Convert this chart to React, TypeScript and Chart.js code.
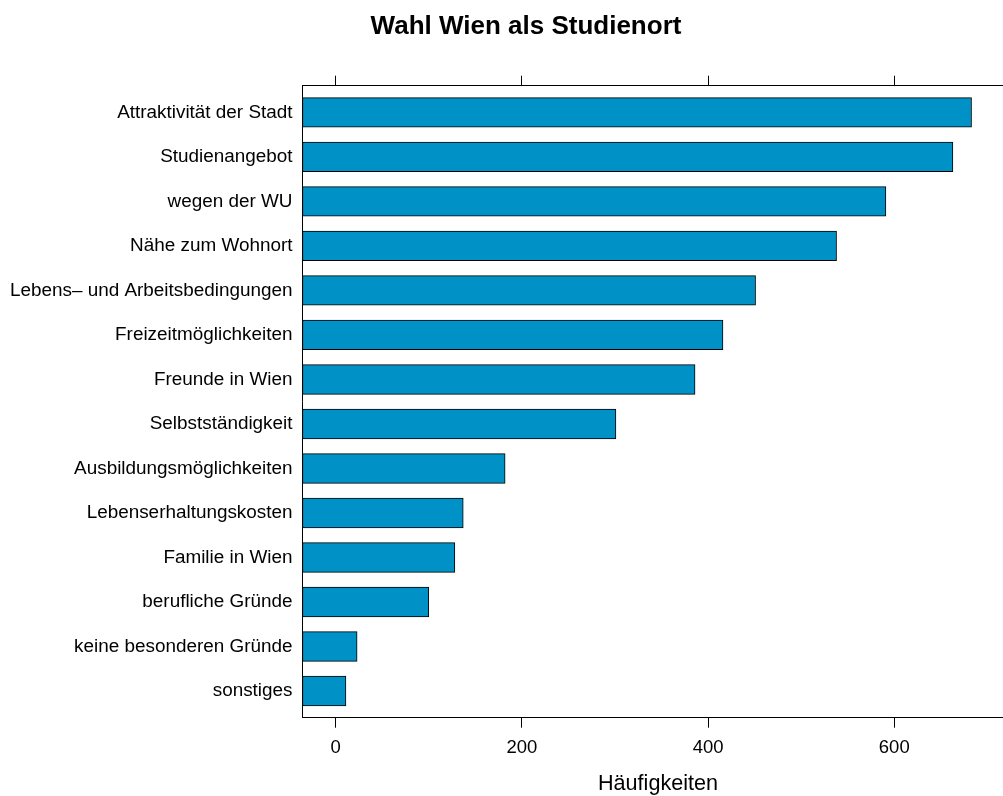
import React, { useEffect, useRef } from "react";
import { Chart, registerables } from "chart.js";

Chart.register(...registerables);

const categories = [
  "Attraktivität der Stadt",
  "Studienangebot",
  "wegen der WU",
  "Nähe zum Wohnort",
  "Lebens– und Arbeitsbedingungen",
  "Freizeitmöglichkeiten",
  "Freunde in Wien",
  "Selbstständigkeit",
  "Ausbildungsmöglichkeiten",
  "Lebenserhaltungskosten",
  "Familie in Wien",
  "berufliche Gründe",
  "keine besonderen Gründe",
  "sonstiges",
];
const counts = [683, 663, 591, 538, 451, 416, 386, 301, 182, 137, 128, 100, 23, 11];
const xTicks = [0, 200, 400, 600];
const titleText = "Wahl Wien als Studienort";
const xLabel = "Häufigkeiten";

const X_MIN = -35.66;
const X_MAX = 716.8;
const Y_MIN = -0.6;
const Y_MAX = 13.6;

const FONT = '"Liberation Sans", Arial, Helvetica, sans-serif';

const textPlugin = {
  id: "latticeText",
  afterDraw(chart: any) {
    const ctx = chart.ctx;
    ctx.save();
    ctx.fillStyle = "#000";
    ctx.textAlign = "center";
    ctx.textBaseline = "alphabetic";
    ctx.font = `bold 26px ${FONT}`;
    ctx.fillText(titleText, 526, 34);
    ctx.font = `21.6px ${FONT}`;
    ctx.fillText(xLabel, 658, 790);
    ctx.restore();
  },
};

export default function App() {
  const ref = useRef<HTMLCanvasElement | null>(null);
  useEffect(() => {
    if (!ref.current) return;
    const chart = new Chart(ref.current, {
      type: "bar",
      data: {
        datasets: [
          {
            data: counts.map((v, i) => ({ x: [X_MIN, v], y: i })) as any,
            backgroundColor: "rgb(0,145,198)",
            borderColor: "#000",
            borderWidth: 1,
            borderSkipped: false,
            barThickness: 29.7,
          },
        ],
      },
      options: {
        animation: false,
        responsive: false,
        indexAxis: "y",
        layout: { padding: { left: 10, right: 0, top: 0, bottom: 0 } },
        plugins: { legend: { display: false }, tooltip: { enabled: false } },
        scales: {
          x: {
            type: "linear",
            position: "bottom",
            min: X_MIN,
            max: X_MAX,
            offset: false,
            afterBuildTicks: (s: any) => {
              s.ticks = xTicks.map((v) => ({ value: v }));
            },
            afterFit: (s: any) => {
              s.height = 78.3;
            },
            ticks: {
              autoSkip: false,
              color: "#000",
              padding: 9,
              font: { family: FONT, size: 18.5 },
            },
            grid: {
              drawOnChartArea: false,
              drawTicks: true,
              tickLength: 10,
              color: "#000",
              lineWidth: 1,
            },
            border: { display: true, color: "#000", width: 1 },
          },
          x2: {
            type: "linear",
            position: "top",
            min: X_MIN,
            max: X_MAX,
            offset: false,
            afterBuildTicks: (s: any) => {
              s.ticks = xTicks.map((v) => ({ value: v }));
            },
            afterFit: (s: any) => {
              s.height = 85.7;
            },
            ticks: { display: false },
            grid: {
              drawOnChartArea: false,
              drawTicks: true,
              tickLength: 10,
              color: "#000",
              lineWidth: 1,
            },
            border: { display: true, color: "#000", width: 1 },
          },
          y: {
            type: "linear",
            reverse: true,
            min: Y_MIN,
            max: Y_MAX,
            offset: false,
            afterBuildTicks: (s: any) => {
              s.ticks = categories.map((_, i) => ({ value: i }));
            },
            afterFit: (s: any) => {
              s.width = 292.5;
            },
            ticks: {
              autoSkip: false,
              color: "#000",
              padding: 10,
              font: { family: FONT, size: 18.9 },
              callback: (v: any) => categories[Math.round(Number(v))] ?? "",
            },
            grid: { display: false, drawTicks: false, offset: false },
            border: { display: true, color: "#000", width: 1 },
          },
        },
      } as any,
      plugins: [textPlugin],
    });
    return () => chart.destroy();
  }, []);
  return (
    <div style={{ position: "absolute", left: 0, top: 0, width: 1003, height: 796, background: "#fff" }}>
      <canvas ref={ref} width={1003} height={796} />
    </div>
  );
}
